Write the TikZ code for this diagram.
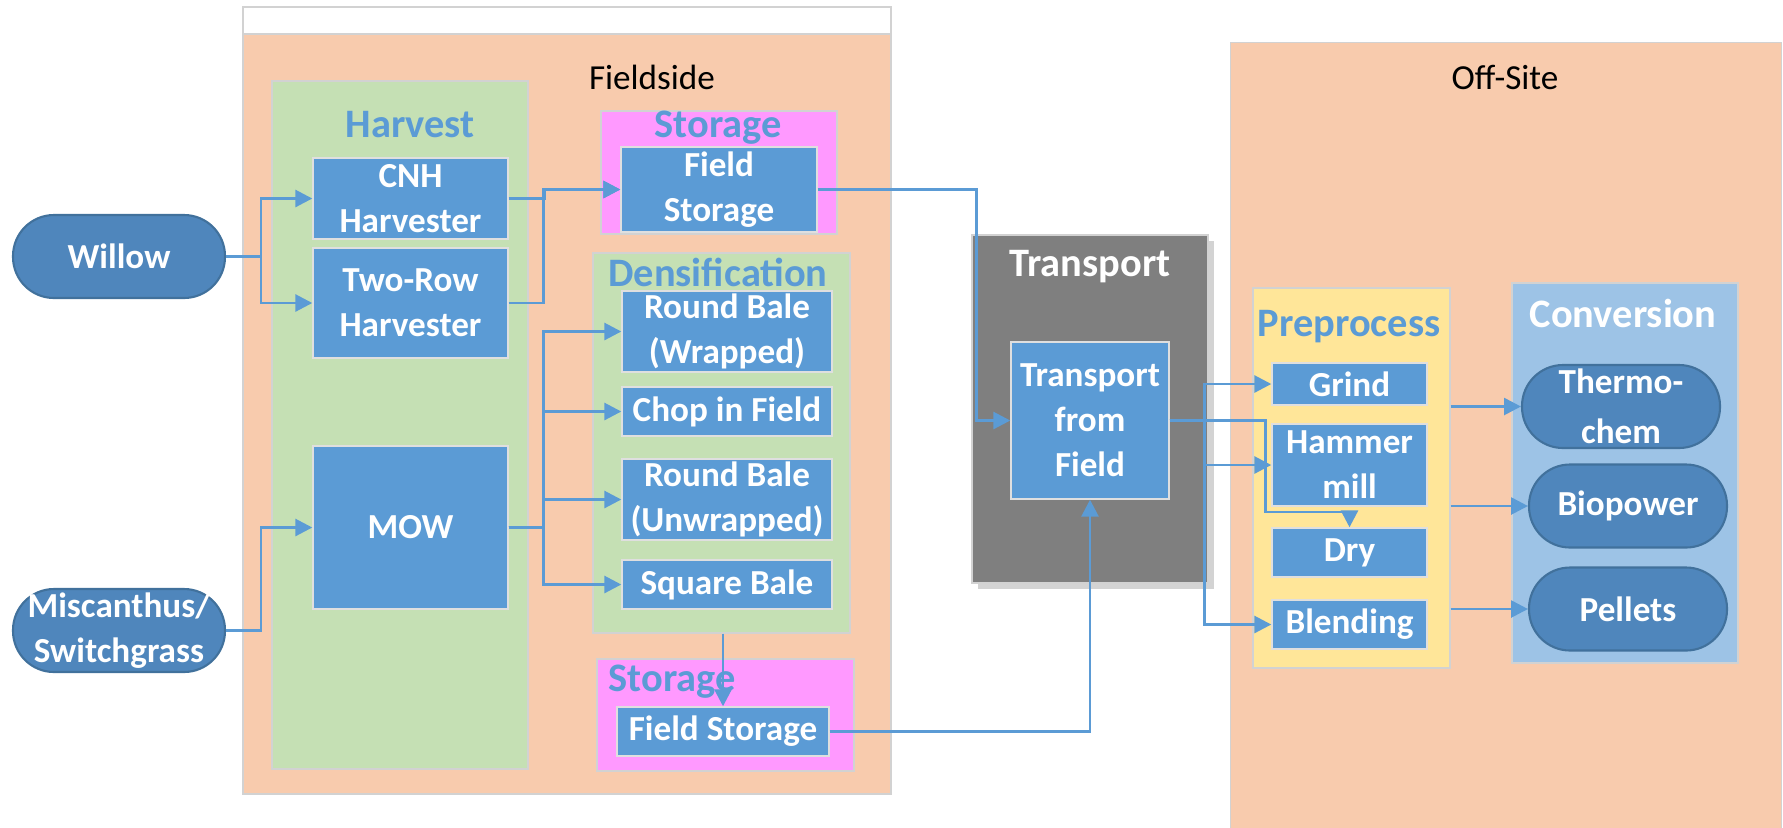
\documentclass[tikz,border=0pt]{standalone}
\usepackage{fontspec}
\setmainfont{Carlito}
\usetikzlibrary{arrows.meta,positioning,calc,shadows}
\definecolor{sideorange}{RGB}{248,203,173}
\definecolor{harvgreen}{RGB}{197,224,180}
\definecolor{storpink}{RGB}{255,153,255}
\definecolor{procblue}{RGB}{91,155,213}
\definecolor{ovalblue}{RGB}{79,134,188}
\definecolor{ovaledge}{RGB}{65,113,156}
\definecolor{transgray}{RGB}{127,127,127}
\definecolor{prepyellow}{RGB}{255,230,153}
\definecolor{convblue}{RGB}{157,195,230}

\begin{document}
\begin{tikzpicture}[x=0.1mm, y=-0.1mm,
    zone/.style={draw=gray!35, line width=0.4pt, inner sep=0pt},
    pbox/.style={draw=white!75!gray, line width=0.4pt, fill=procblue,
                 text=white, align=center, inner sep=0pt,
                 font=\fontsize{10}{12.8}\selectfont\bfseries},
    oval/.style={draw=ovaledge, line width=0.6pt, fill=ovalblue,
                 rounded corners=4.1mm, text=white, align=center,
                 inner sep=0pt, minimum width=19.8mm, minimum height=8.3mm,
                 font=\fontsize{10}{12.8}\selectfont\bfseries},
    grouplabel/.style={font=\fontsize{11.5}{13}\selectfont\bfseries,
                       text=procblue, inner sep=0pt},
    arr/.style={draw=procblue, line width=0.8pt,
                -{Triangle[length=4.8pt,width=4.8pt]}},
]
\useasboundingbox (0,0) rectangle (1783,827);

\node[zone, fill=white, minimum width=64.8mm, minimum height=78.7mm]
    (fieldframe) at (567,400.5) {};
\node[zone, fill=sideorange, minimum width=64.8mm, minimum height=76mm]
    (fieldside) at (567,414) {};
\node[font=\fontsize{10}{12}\selectfont] (fieldlbl) at (652,77) {Fieldside};

\node[zone, fill=harvgreen, minimum width=25.6mm, minimum height=68.8mm]
    (harvest) at (400,425) {};
\node[grouplabel] (harvlbl) at (410,125) {Harvest};
\node[pbox, minimum width=19.5mm, minimum height=8.1mm]
    (cnh) at (410.5,198.5) {CNH\\Harvester};
\node[pbox, minimum width=19.5mm, minimum height=11mm]
    (tworow) at (410.5,303) {Two-Row\\Harvester};
\node[pbox, minimum width=19.5mm, minimum height=16.3mm]
    (mow) at (410.5,527.5) {MOW};

\node[oval, minimum width=21.2mm] (willow) at (119,256.5) {Willow};
\node[oval, minimum width=21.2mm] (misc) at (119,630.5) {Miscanthus/\\Switchgrass};

\node[zone, fill=storpink, minimum width=23.6mm, minimum height=12.3mm]
    (stor1) at (719,172.5) {};
\node[grouplabel] (stor1lbl) at (718,128) {Storage};
\node[pbox, minimum width=19.6mm, minimum height=8.5mm]
    (fs1) at (719,189.5) {Field\\Storage};

\node[zone, fill=harvgreen, minimum width=25.7mm, minimum height=38mm]
    (dens) at (721.5,443) {};
\node[grouplabel] (denslbl) at (718,272) {Densification};
\node[pbox, minimum width=21mm, minimum height=8.1mm]
    (rbw) at (727,331.5) {Round Bale\\(Wrapped)};
\node[pbox, minimum width=21mm, minimum height=4.9mm]
    (chop) at (727,411.5) {Chop in Field};
\node[pbox, minimum width=21mm, minimum height=8.1mm]
    (rbu) at (727,499.5) {Round Bale\\(Unwrapped)};
\node[pbox, minimum width=21mm, minimum height=4.9mm]
    (square) at (727,584.5) {Square Bale};

\node[zone, fill=storpink, minimum width=25.7mm, minimum height=11.2mm]
    (stor2) at (725.5,715) {};
\node[grouplabel] (stor2lbl) at (672,682) {Storage};
\node[pbox, minimum width=21.2mm, minimum height=4.9mm]
    (fs2) at (723,731.5) {Field Storage};

\node[zone, fill=transgray, minimum width=23.6mm, minimum height=34.8mm,
      drop shadow={opacity=0.35, shadow xshift=0.6mm, shadow yshift=-0.6mm}]
    (transport) at (1090,409) {};
\node[grouplabel, text=white] (translbl) at (1090,267) {Transport};
\node[pbox, minimum width=15.8mm, minimum height=15.7mm]
    (tff) at (1090,420.5) {Transport\\from\\Field};

\node[zone, fill=sideorange, minimum width=55.1mm, minimum height=79mm,
      anchor=north west] (offsite) at (1230,42) {};
\node[font=\fontsize{10}{12}\selectfont] (offlbl) at (1505,77) {Off-Site};

\node[zone, fill=prepyellow, minimum width=19.7mm, minimum height=38mm]
    (prep) at (1351.5,478) {};
\node[grouplabel] (preplbl) at (1349,327) {Preprocess};
\node[pbox, minimum width=15.5mm, minimum height=4.2mm]
    (grind) at (1349.5,384) {Grind};
\node[pbox, minimum width=15.5mm, minimum height=8.2mm]
    (hammer) at (1349.5,465) {Hammer\\mill};
\node[pbox, minimum width=15.5mm, minimum height=4.9mm]
    (dry) at (1349.5,552.5) {Dry};
\node[pbox, minimum width=15.5mm, minimum height=4.9mm]
    (blend) at (1349.5,624.5) {Blending};

\node[zone, fill=convblue, minimum width=22.6mm, minimum height=38mm]
    (conv) at (1625,473) {};
\node[grouplabel, text=white] (convlbl) at (1623,313) {Conversion};
\node[oval] (thermo) at (1621,406.5) {Thermo-\\[1.5pt]chem};
\node[oval] (bio) at (1628,506) {Biopower};
\node[oval] (pellets) at (1628,609) {Pellets};

\draw[arr] (willow.east) -- ++(35,0) |- (cnh.west);
\draw[arr] (willow.east) -- ++(35,0) |- (tworow.west);
\draw[arr] (misc.east) -- ++(35,0) |- (mow.west);
\draw[arr] (cnh.east) -- ++(36,0) |- (fs1.west);
\draw[arr] (tworow.east) -- ++(35,0) |- (fs1.west);
\draw[arr] (mow.east) -- ++(35,0) |- (rbw.west);
\draw[arr] (mow.east) -- ++(35,0) |- (chop.west);
\draw[arr] (mow.east) -- ++(35,0) |- (rbu.west);
\draw[arr] (mow.east) -- ++(35,0) |- (square.west);
\draw[arr] (dens.south -| fs2.north) -- (fs2.north);
\draw[arr] (fs1.east) -- ++(159,0) |- (tff.west);
\draw[arr] (fs2.east) -| (tff.south);
\draw[arr] (tff.east) -- ++(35,0) |- (grind.west);
\draw[arr] (tff.east) -- ++(35,0) |- (hammer.west);
\draw[arr] (tff.east) -- ++(35,0) |- (blend.west);
\draw[arr] (tff.east) -- ++(96,0) -- ++(0,91.5) -| (dry.north);
\draw[arr] (prep.east |- thermo) -- (thermo.west);
\draw[arr] (prep.east |- bio) -- (bio.west);
\draw[arr] (prep.east |- pellets) -- (pellets.west);
\end{tikzpicture}
\end{document}
